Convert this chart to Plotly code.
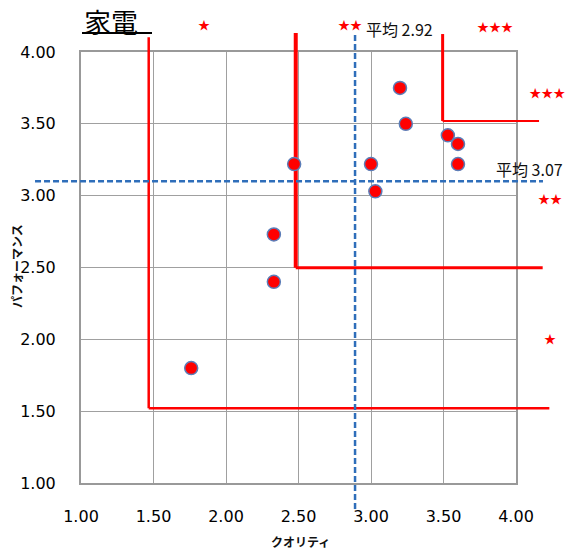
import plotly.graph_objects as go

# data: quality (x) vs performance (y)
quality = [1.76, 2.33, 2.33, 2.47, 3.00, 3.03, 3.20, 3.24, 3.53, 3.60, 3.60]
performance = [1.80, 2.40, 2.73, 3.22, 3.22, 3.03, 3.75, 3.50, 3.42, 3.36, 3.22]

tick_vals = [1.0, 1.5, 2.0, 2.5, 3.0, 3.5, 4.0]
tick_text = ["1.00", "1.50", "2.00", "2.50", "3.00", "3.50", "4.00"]

# average lines (as drawn) and their labels
avg_q_line = 2.89
avg_p_line = 3.10
avg_q_label = "平均 2.92"
avg_p_label = "平均 3.07"

# rank boundaries (L shaped): corner x, corner y, top y, right end x, widths
zone_x = [1.467, 2.481, 3.494]
zone_y = [1.520, 2.499, 3.520]
zone_top = [4.102, 4.132, 4.125]
zone_end = [4.230, 4.184, 4.159]
zone_vw = [2.5, 4, 3]
zone_hw = [2.5, 3, 2]

# star rank labels
star_text = ["★", "★★", "★★★", "★★★", "★★", "★"]
star_x = [1.848, 2.855, 3.855, 4.215, 4.234, 4.234]
star_y = [4.174, 4.174, 4.157, 3.704, 2.963, 1.988]

# page body has an 8px margin, so the figure covers window pixels 8..573 / 8..550
OFF = 8
W, H = 573 - OFF, 550 - OFF
PX0, PX1, PY0, PY1 = 81 - OFF, 516 - OFF, 52 - OFF, 483 - OFF
kx = (PX1 - PX0) / 3.0
ky = (PY1 - PY0) / 3.0


def px(x):
    return (x - OFF) / W


def py(y):
    return 1 - (y - OFF) / H


RED = "#FF0000"
BLUE = "#2F6EBA"
JP = "Noto Sans CJK JP"

fig = go.Figure()

# empty trace so the main (grid) subplot gets drawn
fig.add_trace(go.Scatter(x=[], y=[], xaxis="x", yaxis="y", hoverinfo="skip"))

# rank boundary lines on the full-figure overlay axes
for i in range(len(zone_x)):
    fig.add_trace(go.Scatter(
        x=[zone_x[i], zone_x[i]], y=[zone_top[i], zone_y[i]],
        mode="lines", line=dict(color=RED, width=zone_vw[i]),
        xaxis="x2", yaxis="y2", hoverinfo="skip"))
    fig.add_trace(go.Scatter(
        x=[zone_x[i], zone_end[i]], y=[zone_y[i], zone_y[i]],
        mode="lines", line=dict(color=RED, width=zone_hw[i]),
        xaxis="x2", yaxis="y2", hoverinfo="skip"))

# average dashed lines
fig.add_trace(go.Scatter(
    x=[avg_q_line, avg_q_line], y=[4.118, 0.812],
    mode="lines", line=dict(color=BLUE, width=2.5, dash="6px,3px"),
    xaxis="x2", yaxis="y2", hoverinfo="skip"))
fig.add_trace(go.Scatter(
    x=[0.683, 4.186], y=[avg_p_line, avg_p_line],
    mode="lines", line=dict(color=BLUE, width=2.5, dash="6px,3px"),
    xaxis="x2", yaxis="y2", hoverinfo="skip"))

# stars
fig.add_trace(go.Scatter(
    x=star_x, y=star_y, mode="text", text=star_text,
    textfont=dict(color=RED, size=12, family=JP),
    xaxis="x2", yaxis="y2", hoverinfo="skip", cliponaxis=False))

# points
fig.add_trace(go.Scatter(
    x=quality, y=performance, mode="markers",
    marker=dict(color=RED, size=13, line=dict(color="#5B7DB8", width=1.5)),
    xaxis="x2", yaxis="y2", name="家電"))

# average labels
fig.add_annotation(x=2.952, y=4.157, xref="x2", yref="y2", text=avg_q_label,
                   showarrow=False, xanchor="left", yanchor="middle",
                   font=dict(size=16, color="#111", family=JP))
fig.add_annotation(x=3.848, y=3.186, xref="x2", yref="y2", text=avg_p_label,
                   showarrow=False, xanchor="left", yanchor="middle",
                   font=dict(size=16, color="#111", family=JP))

# title + underline
fig.add_annotation(x=px(82), y=py(21), xref="paper", yref="paper",
                   text="家電", showarrow=False, xanchor="left", yanchor="middle",
                   font=dict(size=27, color="#000", family=JP))
fig.add_shape(type="line", xref="paper", yref="paper",
              x0=px(82), x1=px(152), y0=py(33), y1=py(33),
              line=dict(color="#000", width=2))

# axis titles
fig.add_annotation(x=px(300), y=py(541), xref="paper", yref="paper",
                   text="<b>クオリティ</b>", showarrow=False,
                   xanchor="center", yanchor="middle",
                   font=dict(size=12, color="#111", family=JP))
fig.add_annotation(x=px(16), y=py(266), xref="paper", yref="paper",
                   text="<b>パフォーマンス</b>", showarrow=False, textangle=-90,
                   xanchor="center", yanchor="middle",
                   font=dict(size=12, color="#111", family=JP))

axis_common = dict(
    range=[1, 4], tickvals=tick_vals, ticktext=tick_text,
    showgrid=True, gridcolor="#A0A0A0", gridwidth=1,
    showline=True, mirror=True, linecolor="#999999", linewidth=2,
    zeroline=False, ticks="", automargin=False,
    tickfont=dict(size=16, color="#000", family="DejaVu Sans"),
)

fig.update_layout(
    width=W, height=H, autosize=False,
    margin=dict(l=0, r=0, t=0, b=0),
    paper_bgcolor="white", plot_bgcolor="rgba(0,0,0,0)",
    showlegend=False,
    xaxis=dict(domain=[PX0 / W, PX1 / W], anchor="y",
               ticklabelstandoff=18, **axis_common),
    yaxis=dict(domain=[(H - PY1) / H, (H - PY0) / H], anchor="x",
               ticklabelstandoff=20, **axis_common),
    xaxis2=dict(domain=[0, 1], anchor="y2", visible=False,
                range=[1 - PX0 / kx, 1 + (W - PX0) / kx]),
    yaxis2=dict(domain=[0, 1], anchor="x2", visible=False,
                range=[1 - (H - PY1) / ky, 4 + PY0 / ky]),
)

fig.write_html("out.html")
